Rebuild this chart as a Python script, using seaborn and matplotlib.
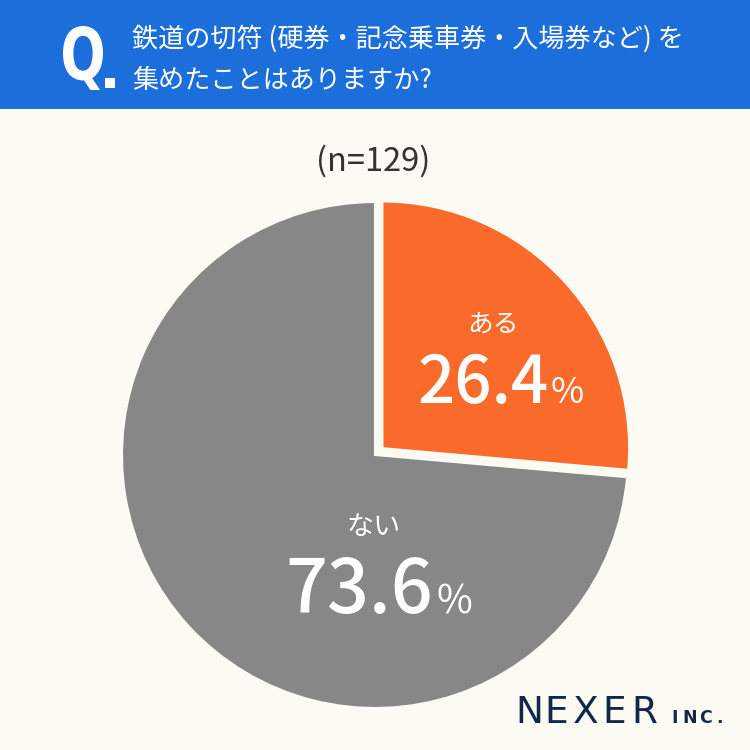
import matplotlib
matplotlib.use("Agg")
import matplotlib.pyplot as plt
import seaborn as sns
from matplotlib.patches import Rectangle, PathPatch
from matplotlib.textpath import TextPath
from matplotlib.font_manager import FontProperties
from matplotlib.transforms import Affine2D

# data
answers = ['ある', 'ない']
shares = [26.4, 73.6]
slice_colors = ['#FA6A2B', '#878787']
title_lines = ['鉄道の切符 (硬券・記念乗車券・入場券など) を', '集めたことはありますか?']
n_label = '(n=129)'

bg = '#FCFBF3'
blue = '#1C6EDB'
navy = '#12284A'

sns.set_theme(style='white')
plt.rcParams['font.family'] = ['Noto Sans CJK JP', 'DejaVu Sans']

fig = plt.figure(figsize=(7.5, 7.5), dpi=100, facecolor=bg)

def px(x, y):
    return x / 750, 1 - y / 750

# header band
fig.patches.append(Rectangle((0, 1 - 109 / 750), 1, 109 / 750, transform=fig.transFigure,
                             facecolor=blue, edgecolor='none', zorder=0))

# narrow bold "Q." mark
q_path = TextPath((0, 0), 'Q', size=100, prop=FontProperties(family='DejaVu Sans', weight='bold'))
bb = q_path.get_extents()
q_tr = Affine2D().translate(-bb.x0, -bb.y0).scale(40 / bb.width, 64 / bb.height).translate(63, 750 - 90)
fig.add_artist(PathPatch(q_path, transform=q_tr, facecolor='white', edgecolor='none'))
fig.patches.append(Rectangle((105 / 750, 1 - 88 / 750), 10 / 750, 10 / 750, transform=fig.transFigure,
                             facecolor='white', edgecolor='none'))

fig.text(*px(132, 39), title_lines[0], color='white', fontsize=18.8,
         ha='left', va='center')
fig.text(*px(132, 80), title_lines[1], color='white', fontsize=18.8,
         ha='left', va='center')

fig.text(*px(373, 161), n_label, color='#333333', fontsize=23.5, ha='center', va='center')

# pie
r_px = 253
span = 1.1
size = 2 * r_px * span
cx, cy = 375, 455
ax = fig.add_axes([(cx - size / 2) / 750, 1 - (cy + size / 2) / 750, size / 750, size / 750])
ax.set_facecolor('none')
wedges, _ = ax.pie(shares, colors=slice_colors, startangle=90, counterclock=False,
                   explode=[0.04, 0], radius=1,
                   wedgeprops=dict(edgecolor=bg, linewidth=1.5))
wedges[0].set_radius(0.975)
ax.set_xlim(-span, span)
ax.set_ylim(-span, span)
ax.set_aspect('equal')
ax.axis('off')

# slice labels
fig.text(*px(493, 325), answers[0], color='white', fontsize=18.5, ha='center', va='center')
fig.text(*px(549, 403), f'{shares[0]:.1f}', color='white', fontsize=47,
         ha='right', va='baseline', fontweight='medium')
fig.text(*px(551, 403), '%', color='white', fontsize=26, ha='left', va='baseline')

fig.text(*px(374, 527), answers[1], color='white', fontsize=19.5, ha='center', va='center')
fig.text(*px(433, 613), f'{shares[1]:.1f}', color='white', fontsize=53,
         ha='right', va='baseline', fontweight='medium')
fig.text(*px(436, 613), '%', color='white', fontsize=28, ha='left', va='baseline')

# logo
for i, ch in enumerate('NEXER'):
    fig.text(*px(515 + i * 29, 723), ch, color=navy, fontsize=27, ha='left',
             va='baseline', family='DejaVu Sans')
for x0, ch in zip([671, 682, 699, 716], 'INC.'):
    fig.text(*px(x0, 723), ch, color=navy, fontsize=12.5, fontweight='bold',
             ha='left', va='baseline', family='DejaVu Sans')

fig.savefig('out.png', dpi=100, facecolor=bg)
